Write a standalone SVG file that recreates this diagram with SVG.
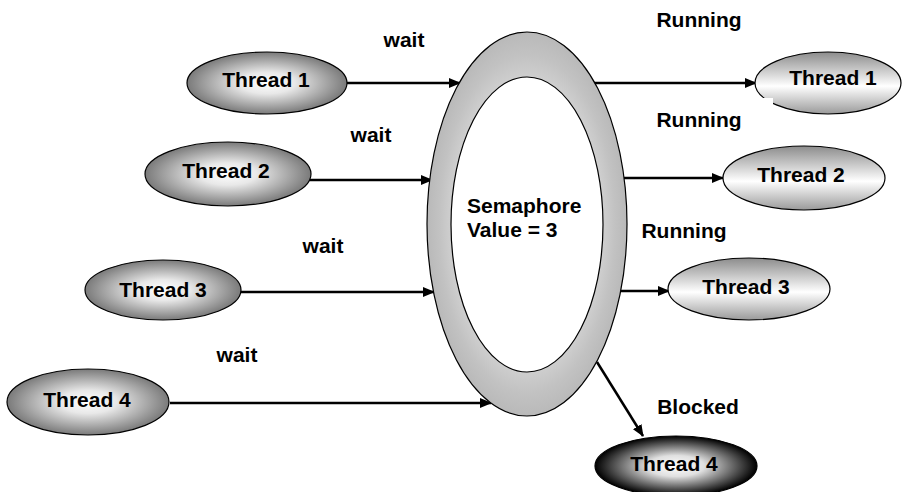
<svg xmlns="http://www.w3.org/2000/svg" width="905" height="492" viewBox="0 0 905 492">
  <style>
    .lbl { font-family: "Liberation Sans", Arial, sans-serif; font-weight: bold; font-size: 21px; fill: #000; }
    .mid { text-anchor: middle; }
    .edge { stroke: #000; stroke-width: 1.2; }
    .conn { stroke: #000; stroke-width: 2.5; fill: none; marker-end: url(#head); }
  </style>
  <defs>
    <marker id="head" viewBox="0 0 12 10" refX="11" refY="5" markerWidth="12" markerHeight="10" markerUnits="userSpaceOnUse" orient="auto">
      <path d="M0,0 L12,5 L0,10 z" fill="#000"/>
    </marker>
    <radialGradient id="waiting" cx="50%" cy="50%" r="50%">
      <stop offset="0" stop-color="#ffffff"/>
      <stop offset="0.35" stop-color="#e8e8e8"/>
      <stop offset="1" stop-color="#7a7a7a"/>
    </radialGradient>
    <linearGradient id="running" x1="0" y1="0" x2="0" y2="1">
      <stop offset="0" stop-color="#8c8c8c"/>
      <stop offset="0.55" stop-color="#ffffff"/>
      <stop offset="1" stop-color="#9a9a9a"/>
    </linearGradient>
    <radialGradient id="blocked" cx="50%" cy="50%" r="50%">
      <stop offset="0" stop-color="#ffffff"/>
      <stop offset="0.35" stop-color="#e0e0e0"/>
      <stop offset="1" stop-color="#000000"/>
    </radialGradient>
    <radialGradient id="ring" cx="50%" cy="50%" r="50%">
      <stop offset="0.76" stop-color="#cfcfcf"/>
      <stop offset="0.88" stop-color="#c2c2c2"/>
      <stop offset="1" stop-color="#b9b9b9"/>
    </radialGradient>
  </defs>

  <!-- connectors -->
  <g id="connectors">
    <line class="conn" x1="347" y1="83" x2="460" y2="83"/>
    <line class="conn" x1="310" y1="180" x2="432" y2="180"/>
    <line class="conn" x1="240" y1="292" x2="434" y2="292"/>
    <line class="conn" x1="170" y1="403" x2="491" y2="403"/>
    <line class="conn" x1="594" y1="83" x2="756" y2="83"/>
    <line class="conn" x1="624" y1="178" x2="723" y2="178"/>
    <line class="conn" x1="620" y1="291" x2="669" y2="291"/>
    <line class="conn" x1="597" y1="362" x2="643" y2="436"/>
  </g>

  <!-- semaphore -->
  <g id="semaphore">
    <ellipse cx="527" cy="224" rx="100" ry="192" fill="url(#ring)" class="edge"/>
    <ellipse cx="527" cy="224.5" rx="76" ry="147.5" fill="#ffffff" class="edge"/>
    <text class="lbl" x="467" y="213">Semaphore</text>
    <text class="lbl" x="467" y="237">Value = 3</text>
  </g>

  <!-- waiting threads -->
  <g id="wait-thread1">
    <ellipse cx="267" cy="83" rx="80" ry="31" fill="url(#waiting)" class="edge"/>
    <text class="lbl mid" x="266" y="87">Thread 1</text>
  </g>
  <g id="wait-thread2">
    <ellipse cx="228" cy="174" rx="83" ry="32" fill="url(#waiting)" class="edge"/>
    <text class="lbl mid" x="226" y="178">Thread 2</text>
  </g>
  <g id="wait-thread3">
    <ellipse cx="163" cy="290" rx="78" ry="30" fill="url(#waiting)" class="edge"/>
    <text class="lbl mid" x="163" y="297">Thread 3</text>
  </g>
  <g id="wait-thread4">
    <ellipse cx="88" cy="402" rx="81" ry="33" fill="url(#waiting)" class="edge"/>
    <text class="lbl mid" x="87" y="407">Thread 4</text>
  </g>

  <!-- running threads -->
  <g id="run-thread1">
    <ellipse cx="828" cy="83" rx="73" ry="31" fill="url(#running)" class="edge"/>
    <rect x="754" y="98" width="19" height="12" fill="#ffffff"/>
    <text class="lbl mid" x="833" y="85">Thread 1</text>
  </g>
  <g id="run-thread2">
    <ellipse cx="804" cy="178" rx="81" ry="32" fill="url(#running)" class="edge"/>
    <text class="lbl mid" x="801" y="182">Thread 2</text>
  </g>
  <g id="run-thread3">
    <ellipse cx="749" cy="289" rx="81" ry="31" fill="url(#running)" class="edge"/>
    <text class="lbl mid" x="746" y="294">Thread 3</text>
  </g>

  <!-- blocked thread -->
  <g id="blocked-thread4">
    <ellipse cx="676" cy="466" rx="81" ry="30" fill="url(#blocked)" class="edge"/>
    <text class="lbl mid" x="674" y="471">Thread 4</text>
  </g>

  <!-- state labels -->
  <g id="labels">
    <text class="lbl mid" x="404" y="47">wait</text>
    <text class="lbl mid" x="371" y="142">wait</text>
    <text class="lbl mid" x="323" y="253">wait</text>
    <text class="lbl mid" x="237" y="362">wait</text>
    <text class="lbl mid" x="699" y="27">Running</text>
    <text class="lbl mid" x="699" y="127">Running</text>
    <text class="lbl mid" x="684" y="238">Running</text>
    <text class="lbl mid" x="698" y="414">Blocked</text>
  </g>
</svg>
